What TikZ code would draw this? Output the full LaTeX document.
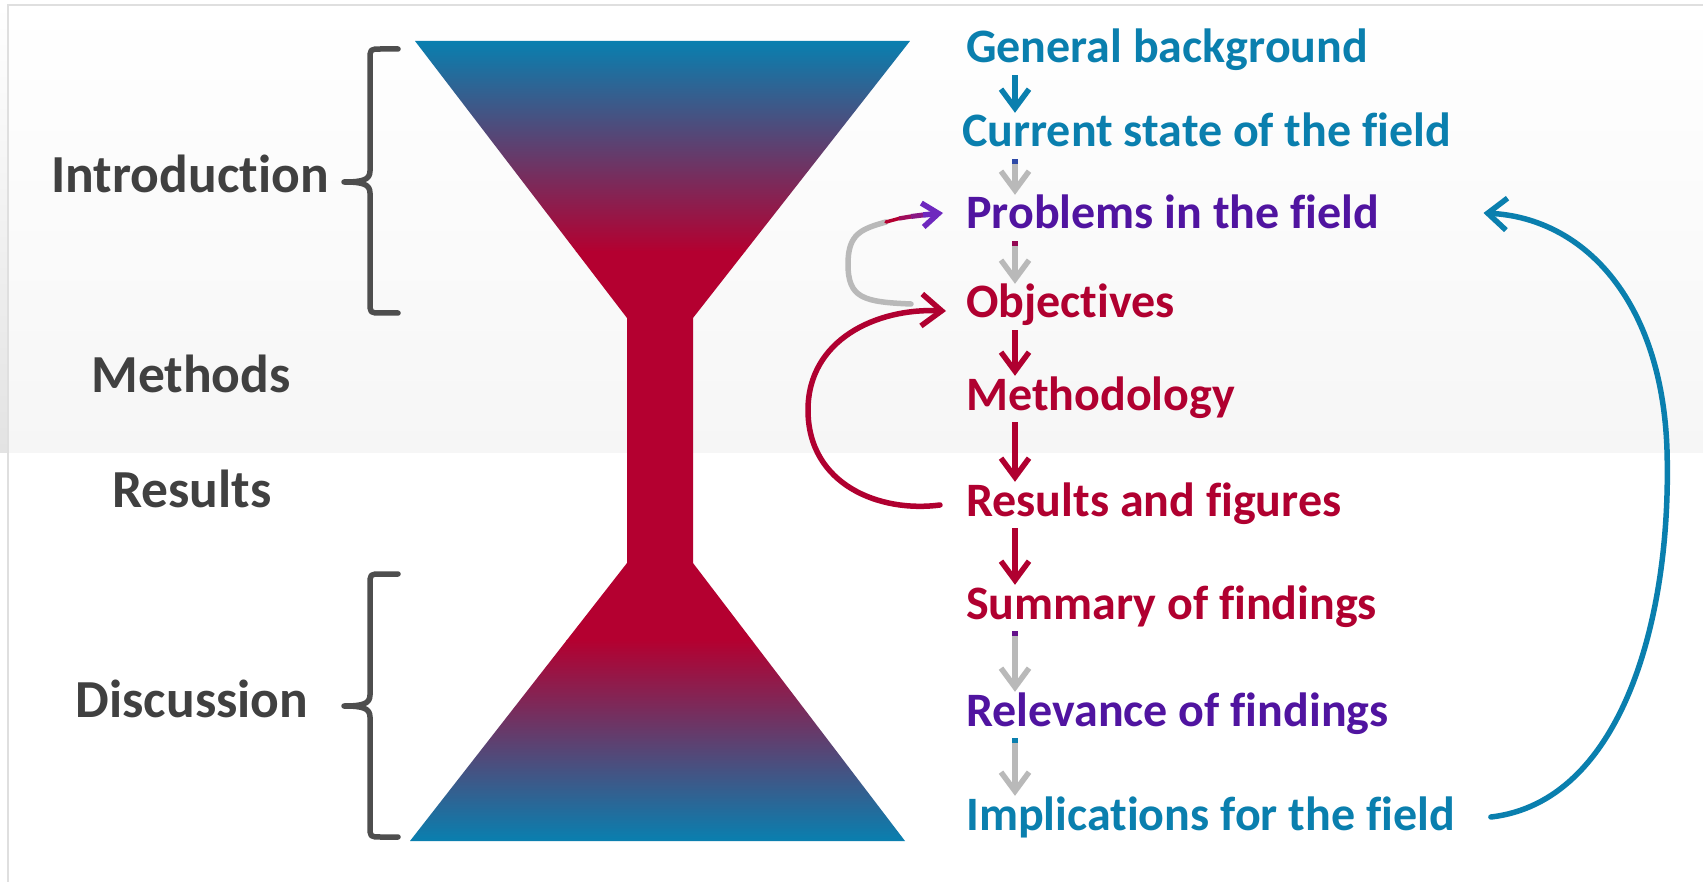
\documentclass[tikz,border=0pt]{standalone}
\usepackage{fontspec}
\setmainfont{Carlito}[Ligatures=NoCommon]
\usetikzlibrary{arrows.meta,calc}
\definecolor{fblue}{RGB}{8,128,176}
\definecolor{fred}{RGB}{180,0,48}
\definecolor{tblue}{RGB}{10,127,174}
\definecolor{tpurple}{RGB}{80,20,160}
\definecolor{tred}{RGB}{176,0,48}
\definecolor{lgray}{RGB}{64,64,64}
\definecolor{bgray}{RGB}{78,78,78}
\definecolor{agray}{RGB}{185,185,185}
\definecolor{mpurple}{RGB}{110,40,190}
\begin{document}
\begin{tikzpicture}[x=1pt,y=-1pt,
  lab/.style={font=\fontsize{53.5}{60}\selectfont\bfseries, text=lgray, inner sep=0pt, anchor=base},
  item/.style={font=\fontsize{48}{56}\selectfont\bfseries, inner sep=0pt, anchor=base west, text height=34pt, text depth=12pt},
  arrowline/.style={line width=5.5pt, -{Straight Barb[length=19pt,width=28pt]}},
  stub/.style={line width=5.5pt},
  bracket/.style={line width=5.5pt, draw=bgray, line cap=round, line join=round},
  loopline/.style={line width=5.5pt, line cap=round},
]
\useasboundingbox (0,0) rectangle (1703,882);
% background
\fill[white] (0,0) rectangle (1703,882);
\shade[top color=white, bottom color=gray!7] (8,5) rectangle (1703,452);
\shade[top color=white, bottom color=gray!22] (0,5) rectangle (8,452);
\draw[gray!25, line width=2pt] (8,882) -- (8,5) -- (1703,5);
% funnel
\begin{scope}
\clip (415,41) -- (910,41) -- (693,318) -- (693,563) -- (905,841) -- (410,841) -- (627,563) -- (627,318) -- cycle;
\shade[top color=fblue, bottom color=fred] (400,40) rectangle (920,252);
\fill[fred] (400,251) rectangle (920,641);
\shade[top color=fred, bottom color=fblue] (400,640) rectangle (920,842);
\end{scope}
% brackets
\draw[bracket] (398,49) -- (381,49) .. controls (370,49) .. (370,60) -- (370,171) .. controls (370,180) and (362,182) .. (344,182) .. controls (362,182) and (370,184) .. (370,193) -- (370,302) .. controls (370,313) .. (381,313) -- (398,313);
\draw[bracket] (398,574) -- (381,574) .. controls (370,574) .. (370,585) -- (370,695) .. controls (370,704) and (362,706) .. (344,706) .. controls (362,706) and (370,708) .. (370,717) -- (370,826) .. controls (370,837) .. (381,837) -- (398,837);
% left labels
\node[lab] (intro) at (190,193) {Introduction};
\node[lab] (meth) at (191,393) {Methods};
\node[lab] (resl) at (192,507) {Results};
\node[lab] (disc) at (192,717) {Discussion};
% right items
\node[item, text=tblue] (gen) at (966,63) {General background};
\node[item, text=tblue] (cur) at (962,147) {Current state of the field};
\node[item, text=tpurple] (prob) at (966,229) {Problems in the field};
\node[item, text=tred] (obj) at (966,318) {Objectives};
\node[item, text=tred] (mth) at (966,410) {Methodology};
\node[item, text=tred] (res) at (966,516) {Results and figures};
\node[item, text=tred] (sum) at (966,619) {Summary of findings};
\node[item, text=tpurple] (rel) at (966,726) {Relevance of findings};
\node[item, text=tblue] (impl) at (966,830) {Implications for the field};
\coordinate (ax) at (1015,0);
% straight arrows
\draw[arrowline, tblue] (gen.south -| ax) -- (cur.north -| ax);
\draw[arrowline, agray] (cur.south -| ax) -- (prob.north -| ax);
\draw[stub, tblue!50!tpurple] (cur.south -| ax) -- ++(0,5);
\draw[arrowline, agray] (prob.south -| ax) -- (obj.north -| ax);
\draw[stub, tred!70!tpurple] (prob.south -| ax) -- ++(0,5);
\draw[arrowline, tred] (obj.south -| ax) -- (mth.north -| ax);
\draw[arrowline, tred] (mth.south -| ax) -- (res.north -| ax);
\draw[arrowline, tred] (res.south -| ax) -- (sum.north -| ax);
\draw[arrowline, agray] (sum.south -| ax) -- (rel.north -| ax);
\draw[stub, tpurple!80!tred] (sum.south -| ax) -- ++(0,5);
\draw[arrowline, agray] (rel.south -| ax) -- (impl.north -| ax);
\draw[stub, tblue] (rel.south -| ax) -- ++(0,5);
% gray loop objectives -> problems
\coordinate (gl) at (848,264);
\coordinate (gm) at (886,222);
\coordinate (g1) at (899,218.5);
\coordinate (g2) at (911,216.5);
\coordinate (g3) at (923,215);
\draw[loopline, agray] ($(obj.west)+(-55,-3)$) .. controls +(-48,-2) and +(0,34) .. (gl) .. controls +(0,-30) and +(-25,7) .. (gm);
\draw[line width=3.5pt, fred, line cap=round] (gm) -- (g1);
\draw[line width=4.3pt, fred!70!mpurple] (g1) -- (g2);
\draw[line width=5pt, fred!40!mpurple] (g2) -- (g3);
\draw[line width=5.5pt, mpurple, -{Straight Barb[length=16pt,width=24pt]}] (g3) -- ($(prob.west)+(-23,-5)$);
% red loop results -> objectives
\coordinate (rl) at (808,410);
\draw[line width=5.5pt, tred, line cap=round, -{Straight Barb[length=20pt,width=32pt]}] ($(res.west)+(-26,0)$) .. controls +(-60,8) and +(0,75) .. (rl) .. controls +(0,-70) and +(-70,-3) .. ($(obj.west)+(-20,4)$);
% blue loop implications -> problems
\coordinate (bm) at (1667,450);
\draw[line width=5.5pt, tblue, line cap=round, -{Straight Barb[length=19pt,width=32pt]}] ($(impl.east)+(36,-2)$) .. controls +(130,-15) and +(5,170) .. (bm) .. controls +(-5,-150) and +(100,5) .. ($(prob.east)+(104,-5)$);
\end{tikzpicture}
\end{document}
